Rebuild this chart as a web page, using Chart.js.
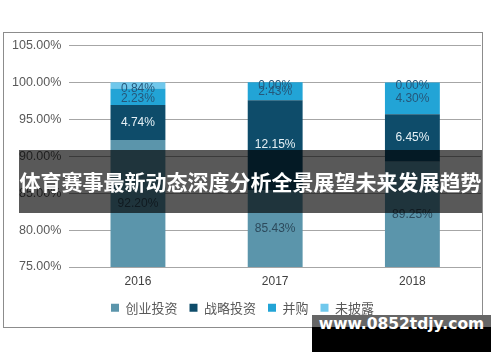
<!DOCTYPE html>
<html>
<head>
<meta charset="utf-8">
<script src="https://cdn.jsdelivr.net/npm/chart.js@4/dist/chart.umd.min.js"></script>
<style>
  body { margin: 0; background: #fff; width: 500px; height: 362px; position: relative; overflow: hidden; }
  #box { position: absolute; left: 3px; top: 32px; width: 478px; height: 294px; border: 1px solid #8c8c8c; }
  #banner { position: absolute; left: 19px; top: 150px; width: 463px; height: 63px; background: rgba(0,0,0,0.65);
    color: #fff; font: bold 21px "Noto Sans CJK SC", sans-serif; line-height: 63px; text-align: center; white-space: nowrap; }
  #mark { position: absolute; left: 312px; top: 315px; width: 179px; height: 37px; background: #000; overflow: hidden; }
  #mark .top { position: absolute; left: 0; top: 0; width: 100%; height: 12px; background: #666; }
  #mark .txt { position: absolute; left: 0; top: 0; width: 100%; height: 44px; line-height: 44px; text-align: center;
    color: #fff; font: bold 15.5px "DejaVu Sans", sans-serif; }
</style>
</head>
<body>
<div id="box"><canvas id="c"></canvas></div>
<div id="banner">体育赛事最新动态深度分析全景展望未来发展趋势</div>
<div id="mark"><div class="top"></div><div class="txt">www.0852tdjy.com</div></div>
<script>
const years = ['2016', '2017', '2018'];
const seriesNames = ['创业投资', '战略投资', '并购', '未披露'];
const venture = [92.20, 85.43, 89.25];
const strategic = [4.74, 12.15, 6.45];
const merger = [2.23, 2.43, 4.30];
const undisclosed = [0.84, 0.00, 0.00];
const colors = ['#5b95ab', '#0e4c6a', '#22a4d6', '#70c8ec'];
const labelColors = ['#2c4a5c', '#e6f1f6', '#25577a', '#25577a'];

// draws the value inside each segment (visible part only)
const segLabels = {
  id: 'segLabels',
  afterDatasetsDraw(chart) {
    const ctx = chart.ctx;
    const area = chart.chartArea;
    ctx.save();
    ctx.font = '12px "Liberation Sans", Arial, sans-serif';
    ctx.textAlign = 'center';
    ctx.textBaseline = 'middle';
    chart.data.datasets.forEach((ds, i) => {
      chart.getDatasetMeta(i).data.forEach((el, j) => {
        const top = Math.max(Math.min(el.y, el.base), area.top);
        const bot = Math.min(Math.max(el.y, el.base), area.bottom);
        let y = (top + bot) / 2;
        if (i === 3) y += 3;
        if (i === 2 && j === 0) y += 2;
        ctx.fillStyle = labelColors[i];
        ctx.fillText(ds.data[j].toFixed(2) + '%', el.x, y);
      });
    });
    ctx.restore();
  }
};

new Chart(document.getElementById('c'), {
  type: 'bar',
  data: {
    labels: years,
    datasets: [venture, strategic, merger, undisclosed].map((d, i) => ({
      label: seriesNames[i], data: d, backgroundColor: colors[i], borderWidth: 0,
      categoryPercentage: 1, barPercentage: 0.4
    }))
  },
  options: {
    responsive: true, maintainAspectRatio: false, animation: false,
    layout: { padding: { left: 0, right: 1, top: 0, bottom: 2.8 } },
    plugins: {
      tooltip: { enabled: false },
      legend: {
        position: 'bottom',
        labels: { usePointStyle: true, pointStyle: 'rect', boxWidth: 8, boxHeight: 8, padding: 12,
          color: '#595959', font: { size: 13, family: '"Noto Sans CJK SC", sans-serif' } }
      }
    },
    scales: {
      x: {
        stacked: true,
        // hidden grid, tick length only used as the gap above the labels
        grid: { display: false, drawTicks: true, tickLength: 7.8 },
        border: { display: false },
        ticks: { color: '#404040', font: { size: 12, family: '"Liberation Sans", Arial, sans-serif' }, padding: 0 }
      },
      y: {
        stacked: true, min: 75, max: 105,
        border: { display: false },
        grid: { color: '#a6a6a6', drawTicks: false },
        ticks: { stepSize: 5, padding: 8, color: '#595959',
          font: { size: 12.5, family: '"Liberation Sans", Arial, sans-serif' },
          callback: v => v.toFixed(2) + '%' },
        afterFit: s => { s.paddingTop = Math.max(s.paddingTop - 3, 0); }
      }
    }
  },
  plugins: [segLabels]
});
</script>
</body>
</html>
